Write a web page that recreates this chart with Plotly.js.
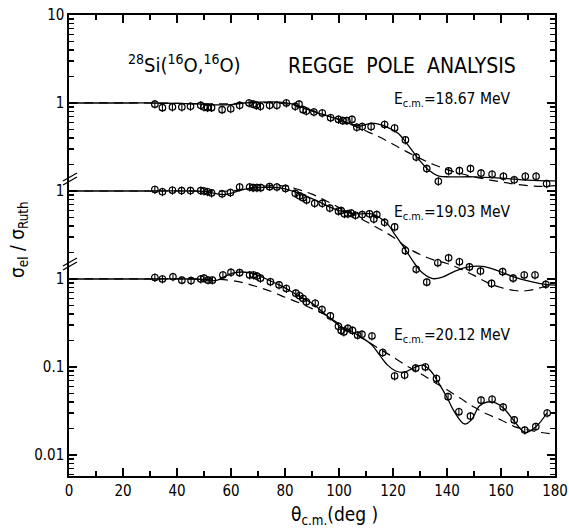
<!DOCTYPE html>
<html>
<head>
<meta charset="utf-8">
<script src="https://cdn.plot.ly/plotly-3.0.1.min.js"></script>
<style>html,body{margin:0;padding:0;background:#fff;}#chart{width:569px;height:531px;}</style>
</head>
<body>
<div id="chart"></div>
<script>
// ---- Data: E = 18.67 MeV (top, shifted x100) ----
const th18 = [31.8,34.6,38.3,41.8,45.0,48.8,50.0,51.3,52.8,56.7,59.9,63.2,66.7,68.2,69.4,70.9,74.3,77.0,80.5,83.8,85.2,86.7,87.9,90.7,93.8,96.9,99.8,101.4,102.9,104.8,106.6,108.6,111.9,116.9,120.6,124.6,128.6,132.5,136.8,140.6,144.6,148.7,152.6,156.7,160.9,164.9,169.0,173.0,176.9];
const sig18 = [0.97,0.885,0.90,0.90,0.917,0.94,0.90,0.885,0.885,0.84,0.86,0.94,1.0,0.97,0.94,0.917,0.94,0.94,1.0,0.917,0.97,0.84,0.81,0.79,0.77,0.68,0.65,0.63,0.63,0.65,0.53,0.54,0.54,0.57,0.52,0.38,0.243,0.18,0.129,0.169,0.17,0.18,0.16,0.155,0.147,0.134,0.147,0.147,0.121];
const thRegge18 = [0,10,20,30,40,50,55,60,65,70,75,80,85,88,94,100,105,108,112,116,119,122,126,130,133.5,137,141,150,160,170,180];
const regge18   = [1.0,1.0,1.0,1.0,0.99,0.97,0.95,0.96,1.0,1.02,1.03,1.01,0.93,0.85,0.74,0.65,0.57,0.55,0.59,0.56,0.51,0.45,0.32,0.22,0.17,0.148,0.145,0.145,0.14,0.133,0.13];
const thAlt18 = [0,30,50,60,70,80,85,90,95,100,105,110,115,120,125,130,135,140,145,150,155,160,165,170,175,180];
const alt18   = [1.0,1.0,0.98,0.98,1.01,0.98,0.92,0.82,0.73,0.65,0.56,0.48,0.41,0.34,0.28,0.235,0.2,0.175,0.158,0.145,0.135,0.127,0.12,0.115,0.113,0.115];

// ---- Data: E = 19.03 MeV (middle, shifted x10) ----
const th19 = [31.8,34.6,38.3,41.7,45.0,48.8,50.0,51.3,52.8,56.7,59.8,63.2,66.9,68.2,69.6,71.0,74.3,77.0,80.2,83.8,85.4,86.7,88.0,91.0,93.8,96.6,99.8,100.8,102.0,103.3,104.5,106.1,108.6,111.3,112.9,114.0,116.9,120.6,124.6,128.6,132.5,136.6,140.6,144.6,148.3,152.4,156.5,160.6,164.5,168.6,172.6,176.6];
const sig19 = [1.04,0.98,1.02,1.01,1.01,1.01,1.0,0.98,0.95,0.93,0.96,1.11,1.11,1.09,1.09,1.09,1.12,1.11,1.07,0.94,0.88,0.84,0.79,0.725,0.725,0.64,0.59,0.60,0.55,0.55,0.56,0.53,0.54,0.55,0.48,0.54,0.44,0.39,0.21,0.129,0.092,0.153,0.174,0.157,0.137,0.123,0.089,0.121,0.102,0.111,0.111,0.087];
const thRegge19 = [0,30,45,50,54,57,60,64,68,72,76,80,84,88,92,96,100,104,108,112,115,118,121,124,128,131,134.7,138,143,148,152,156,160,165,170,175,180];
const regge19   = [1.0,1.0,1.0,0.99,0.94,0.91,0.94,1.03,1.08,1.1,1.1,1.06,0.97,0.87,0.77,0.67,0.6,0.56,0.55,0.55,0.5,0.42,0.31,0.23,0.15,0.117,0.101,0.104,0.123,0.137,0.14,0.133,0.12,0.105,0.095,0.088,0.085];
const thAlt19 = [0,50,60,65,70,75,80,85,90,95,100,105,110,115,120,125,130,135,140,145,150,155,160,165,170,175,180];
const alt19   = [1.0,1.0,1.0,1.06,1.12,1.15,1.14,1.04,0.92,0.78,0.65,0.55,0.45,0.37,0.3,0.23,0.19,0.165,0.15,0.13,0.11,0.091,0.08,0.074,0.074,0.08,0.09];

// ---- Data: E = 20.12 MeV (bottom, unshifted) ----
const th20 = [31.8,34.6,38.5,41.8,45.2,48.8,50.0,51.5,53.1,57.0,60.0,63.2,66.9,68.3,69.6,70.9,74.6,77.8,80.5,84.0,85.4,86.7,87.9,91.2,93.7,96.8,99.8,100.8,101.8,103.3,105.0,106.9,108.5,112.2,116.2,120.6,124.3,128.4,132.0,136.1,140.4,144.4,148.7,152.6,156.7,160.8,164.9,168.8,172.9,177.1];
const sig20 = [1.04,1.0,1.06,0.97,0.96,1.0,1.02,0.97,0.97,1.11,1.19,1.18,1.11,1.11,1.08,1.02,0.93,0.855,0.78,0.69,0.645,0.60,0.55,0.53,0.45,0.38,0.29,0.26,0.25,0.275,0.26,0.23,0.235,0.225,0.146,0.079,0.081,0.097,0.10,0.074,0.046,0.031,0.0277,0.042,0.043,0.035,0.025,0.0192,0.021,0.030];
const thRegge20 = [0,30,45,50,53,55,58,61,64,67,70,74,78,82,86,90,94,98,102,106,109,112,115,118,121,124,127.5,131,134,137,140,143,146.5,149,152,155,158,161,165,169,173,177];
const regge20   = [1.0,1.0,1.0,0.99,0.96,0.97,1.08,1.17,1.2,1.17,1.1,0.97,0.85,0.73,0.62,0.53,0.42,0.33,0.27,0.24,0.21,0.18,0.137,0.105,0.09,0.087,0.097,0.105,0.09,0.065,0.045,0.03,0.0225,0.025,0.036,0.04,0.039,0.034,0.024,0.018,0.021,0.03];
const thAlt20 = [0,50,55,60,65,70,75,80,85,90,95,100,105,110,115,120,125,130,135,140,145,150,155,160,165,170,175,180];
const alt20   = [1.0,1.0,0.99,0.96,0.9,0.81,0.72,0.62,0.54,0.46,0.39,0.31,0.25,0.2,0.16,0.13,0.103,0.085,0.068,0.055,0.044,0.035,0.029,0.025,0.021,0.0193,0.018,0.0172];

const shifts = [100, 10, 1];

const yTickVals = [0.01, 0.1, 1, 10, 100, 1000];
const yTickText = ['0.01', '0.1', '1', '1', '1', '10'];

// ---- build ----
const sets = [
  {th: th18, s: sig18, tr: thRegge18, r: regge18, ta: thAlt18, a: alt18},
  {th: th19, s: sig19, tr: thRegge19, r: regge19, ta: thAlt19, a: alt19},
  {th: th20, s: sig20, tr: thRegge20, r: regge20, ta: thAlt20, a: alt20}
];
const traces = [];
sets.forEach((d, i) => {
  const k = shifts[i];
  traces.push({x: d.ta, y: d.a.map(v => v * k), mode: 'lines', type: 'scatter',
    line: {color: 'black', width: 1.2, dash: '9px,6px', shape: 'spline', smoothing: 1}, hoverinfo: 'skip'});
  traces.push({x: d.tr, y: d.r.map(v => v * k), mode: 'lines', type: 'scatter',
    line: {color: 'black', width: 1.3, shape: 'spline', smoothing: 1}, hoverinfo: 'skip'});
  traces.push({x: d.th, y: d.s.map(v => v * k), mode: 'markers', type: 'scatter',
    xaxis: 'x2', yaxis: 'y2',
    marker: {symbol: 'circle-open', size: 6.5, color: 'black', line: {width: 1.2, color: 'black'}},
    error_y: {type: 'percent', value: 11, width: 0, thickness: 1.1, color: 'black'}});
});

const L = 69, R = 555, T = 15, B = 476;
const px = x => (x - L) / (R - L);
const py = y => (B - y) / (B - T);
const FONT = 'DejaVu Sans Condensed, DejaVu Sans, sans-serif';
const NB = '\u00a0';

const annotations = [
  {text: '<sup>28</sup>Si(<sup>16</sup>O,<sup>16</sup>O)', x: px(126), y: py(64), xanchor: 'left', yanchor: 'middle', font: {size: 20}},
  {text: 'REGGE' + NB + NB + 'POLE' + NB + NB + 'ANALYSIS', x: px(286), y: py(66), xanchor: 'left', yanchor: 'middle', font: {size: 21}},
  {text: 'E<sub>c.m.</sub>=18.67' + NB + 'MeV', x: px(392), y: py(100), xanchor: 'left', yanchor: 'middle', font: {size: 15.5}},
  {text: 'E<sub>c.m.</sub>=19.03' + NB + 'MeV', x: px(392), y: py(213), xanchor: 'left', yanchor: 'middle', font: {size: 15.5}},
  {text: 'E<sub>c.m.</sub>=20.12' + NB + 'MeV', x: px(392), y: py(336), xanchor: 'left', yanchor: 'middle', font: {size: 15.5}},
  {text: 'σ<sub>el</sub> / σ<sub>Ruth</sub>', x: px(18), y: py(240), xanchor: 'center', yanchor: 'middle', textangle: -90, font: {size: 19}},
  {text: 'θ<sub>c.m.</sub>(deg )', x: px(334), y: py(515), xanchor: 'center', yanchor: 'middle', font: {size: 19}}
].map(a => Object.assign({xref: 'paper', yref: 'paper', showarrow: false}, a));

const shapes = [];
[[181, 173], [266, 258]].forEach(([y0, y1]) => {
  shapes.push({type: 'line', xref: 'paper', yref: 'paper', x0: px(63), y0: py(y0), x1: px(77), y1: py(y1), line: {color: 'black', width: 1.3}});
  shapes.push({type: 'line', xref: 'paper', yref: 'paper', x0: px(63), y0: py(y0 + 4), x1: px(77), y1: py(y1 + 4), line: {color: 'black', width: 1.3}});
});

const xTicks = {
  range: [0, 180], dtick: 20,
  ticks: 'inside', ticklen: 8, tickwidth: 1.5, tickcolor: 'black',
  minor: {dtick: 10, ticks: 'inside', ticklen: 5, tickwidth: 1.3, tickcolor: 'black'},
  mirror: 'allticks', showgrid: false, zeroline: false, tickfont: {size: 15}
};
const yTicks = {
  type: 'log', range: [-2.239, 3.0],
  tickmode: 'array', tickvals: yTickVals, ticktext: yTickText,
  ticks: 'inside', ticklen: 8, tickwidth: 1.5, tickcolor: 'black',
  minor: {dtick: 'D1', ticks: 'inside', ticklen: 5, tickwidth: 1.2, tickcolor: 'black'},
  mirror: 'allticks', showgrid: false, zeroline: false, tickfont: {size: 15}
};

const layout = {
  width: 569, height: 531,
  margin: {l: L, r: 569 - R, t: T, b: 531 - B},
  showlegend: false,
  font: {family: FONT, color: 'black', size: 15},
  xaxis: Object.assign({}, xTicks, {showline: true, linecolor: 'black', linewidth: 1.7}),
  yaxis: Object.assign({}, yTicks, {showline: true, linecolor: 'black', linewidth: 1.7}),
  xaxis2: Object.assign({}, xTicks, {overlaying: 'x', side: 'top', anchor: 'y2', showticklabels: false, showline: false}),
  yaxis2: Object.assign({}, yTicks, {overlaying: 'y', side: 'right', anchor: 'x2', showticklabels: false, showline: false}),
  annotations: annotations,
  shapes: shapes
};

Plotly.newPlot('chart', traces, layout, {staticPlot: true, displayModeBar: false});
</script>
</body>
</html>
